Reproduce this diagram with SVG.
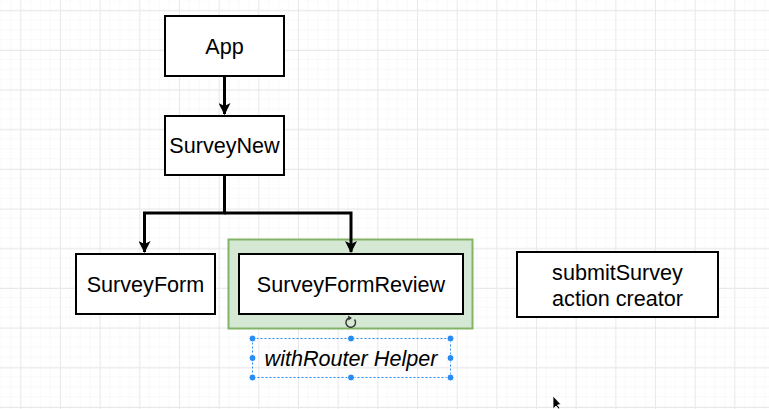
<svg xmlns="http://www.w3.org/2000/svg" width="769" height="409" viewBox="0 0 769 409">
<style>
.box{fill:#ffffff;stroke:#000000;stroke-width:2}
.lbl{font-family:"Liberation Sans",Arial,sans-serif;font-size:21.6px;fill:#000000;text-anchor:middle;dominant-baseline:central}
.edge{fill:none;stroke:#000000;stroke-width:3}
.handle{fill:#2a8bf2;stroke:#ffffff;stroke-width:1}
</style>
<defs>
<pattern id="minor" width="9.917" height="9.917" patternUnits="userSpaceOnUse" x="0.83" y="0.08">
<path d="M9.917 0V9.917H0" fill="none" stroke="#f4f4f4" stroke-width="1"/>
</pattern>
<pattern id="major" width="39.67" height="39.67" patternUnits="userSpaceOnUse" x="20.33" y="10.33">
<rect width="39.67" height="39.67" fill="url(#minor)"/>
<path d="M0 0.5H39.67M0.5 0V39.67" fill="none" stroke="#e9e9e9" stroke-width="1"/>
</pattern>
<marker id="arr" viewBox="0 0 12 12" refX="11" refY="6" markerWidth="12" markerHeight="12" markerUnits="userSpaceOnUse" orient="auto">
<path d="M0 0L12 6L0 12L3 6Z" fill="#000000"/>
</marker>
</defs>
<rect width="769" height="409" fill="#ffffff"/>
<rect width="769" height="409" fill="url(#major)"/>

<g id="withRouterContainer">
<rect x="228.5" y="239.5" width="244" height="89" fill="#d5e8d4" stroke="#82b366" stroke-width="2"/>
</g>

<g id="connectors">
<path class="edge" d="M224.5 76V114" marker-end="url(#arr)"/>
<path class="edge" d="M224.5 175V213H144.5V252" marker-end="url(#arr)"/>
<path class="edge" d="M224.5 213H351V252" marker-end="url(#arr)"/>
</g>

<g id="App">
<rect class="box" x="165" y="16" width="119" height="60"/>
<text class="lbl" x="224.5" y="46">App</text>
</g>
<g id="SurveyNew">
<rect class="box" x="165" y="116" width="119" height="59"/>
<text class="lbl" x="224.5" y="145.5">SurveyNew</text>
</g>
<g id="SurveyForm">
<rect class="box" x="76" y="254" width="139" height="60"/>
<text class="lbl" x="145.5" y="284">SurveyForm</text>
</g>
<g id="SurveyFormReview">
<rect class="box" x="239" y="254" width="224" height="60"/>
<text class="lbl" x="351" y="284">SurveyFormReview</text>
</g>
<g id="rotate-handle">
<path d="M354.5 319.5A4.8 4.8 0 1 1 349 318" fill="none" stroke="#333333" stroke-width="1.4"/>
<path d="M348 315.5L352 318L348.5 320.5Z" fill="#333333"/>
</g>
<g id="withRouterHelper">
<rect x="252.5" y="338.5" width="198" height="39" fill="none" stroke="#2a8bf2" stroke-width="1" stroke-dasharray="2 2"/>
<text class="lbl" x="351" y="358" font-style="italic">withRouter Helper</text>
<circle class="handle" cx="252.5" cy="338.5" r="3.5"/>
<circle class="handle" cx="351" cy="338.5" r="3.5"/>
<circle class="handle" cx="450.5" cy="338.5" r="3.5"/>
<circle class="handle" cx="252.5" cy="358" r="3.5"/>
<circle class="handle" cx="450.5" cy="358" r="3.5"/>
<circle class="handle" cx="252.5" cy="377.5" r="3.5"/>
<circle class="handle" cx="351" cy="377.5" r="3.5"/>
<circle class="handle" cx="450.5" cy="377.5" r="3.5"/>
</g>
<g id="submitSurvey">
<rect class="box" x="517" y="252" width="201" height="65"/>
<text class="lbl" x="617.5" y="272">submitSurvey</text>
<text class="lbl" x="617.5" y="298">action creator</text>
</g>
<g id="cursor">
<path d="M553 396L553 409L556 406L558.5 409L560 408L557.5 405L561 404.5Z" fill="#000000" stroke="#ffffff" stroke-width="0.8"/>
</g>
</svg>
